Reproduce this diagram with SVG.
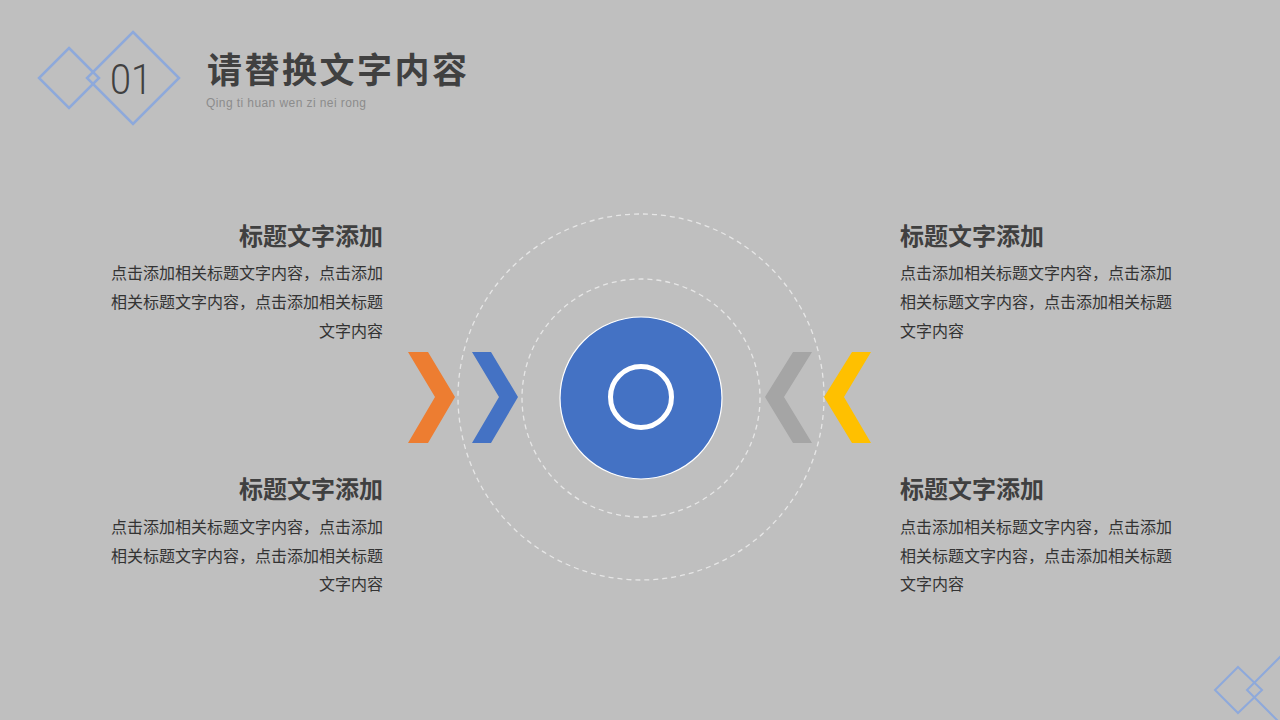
<svg xmlns="http://www.w3.org/2000/svg" width="1280" height="720" viewBox="0 0 1280 720">
<style>
.dia{fill:none;stroke:#8EA9DB;stroke-width:2.5}
.ttl{font-family:"Noto Sans CJK SC","Liberation Sans",sans-serif;font-weight:700;fill:#404040}
.h{font-family:"Noto Sans CJK SC","Liberation Sans",sans-serif;font-weight:700;font-size:24px;fill:#404040}
.b{font-family:"Noto Sans CJK SC","Liberation Sans",sans-serif;font-size:16px;fill:#333333}
.dash{fill:none;stroke:#E6E6E6;stroke-width:1.3;stroke-dasharray:5 4}
</style>
<rect width="1280" height="720" fill="#BFBFBF"/>
<g id="header">
<polygon class="dia" points="69,48 99,78 69,108 39,78"/>
<polygon class="dia" points="133,32 179,78 133,124 87,78"/>
<text x="131" y="94" text-anchor="middle" font-family="Roboto, 'Liberation Sans', sans-serif" font-weight="300" font-size="42" fill="#404040" textLength="42" lengthAdjust="spacingAndGlyphs">01</text>
<text class="ttl" x="207" y="83" font-size="35" textLength="260">请替换文字内容</text>
<text x="206" y="107" font-family="'Liberation Sans', Arial, sans-serif" font-size="12" fill="#8C8C8C" textLength="160">Qing ti huan wen zi nei rong</text>
</g>
<g id="corner">
<polygon class="dia" style="stroke-width:2" points="1238,667 1262,690 1238,713 1215,690"/>
<polygon class="dia" style="stroke-width:2" points="1284,653 1321,690 1284,727 1247,690"/>
</g>
<g id="center">
<circle class="dash" cx="641" cy="397" r="183"/>
<circle class="dash" cx="641" cy="398" r="119"/>
<circle cx="641" cy="398" r="81" fill="#4472C4" stroke="#FFFFFF" stroke-width="1.2"/>
<circle cx="641" cy="397" r="30.5" fill="none" stroke="#FFFFFF" stroke-width="5"/>
</g>
<g id="arrows">
<polygon fill="#ED7D31" points="408,352 428,352 455,397 428,443 408,443 435,397"/>
<polygon fill="#4472C4" points="472,352 491,352 518,397 491,443 472,443 499,397"/>
<polygon fill="#A5A5A5" points="812,352 793,352 765,397 793,443 812,443 784,397"/>
<polygon fill="#FFC000" points="871,352 852,352 824,397 852,443 871,443 844,397"/>
</g>
<g id="block-tl" text-anchor="end">
<text class="h" x="383" y="245">标题文字添加</text>
<text class="b" x="383" y="279">点击添加相关标题文字内容，点击添加</text>
<text class="b" x="383" y="308">相关标题文字内容，点击添加相关标题</text>
<text class="b" x="383" y="337">文字内容</text>
</g>
<g id="block-bl" text-anchor="end">
<text class="h" x="383" y="498">标题文字添加</text>
<text class="b" x="383" y="533">点击添加相关标题文字内容，点击添加</text>
<text class="b" x="383" y="562">相关标题文字内容，点击添加相关标题</text>
<text class="b" x="383" y="590">文字内容</text>
</g>
<g id="block-tr">
<text class="h" x="900" y="245">标题文字添加</text>
<text class="b" x="900" y="279">点击添加相关标题文字内容，点击添加</text>
<text class="b" x="900" y="308">相关标题文字内容，点击添加相关标题</text>
<text class="b" x="900" y="337">文字内容</text>
</g>
<g id="block-br">
<text class="h" x="900" y="498">标题文字添加</text>
<text class="b" x="900" y="533">点击添加相关标题文字内容，点击添加</text>
<text class="b" x="900" y="562">相关标题文字内容，点击添加相关标题</text>
<text class="b" x="900" y="590">文字内容</text>
</g>
</svg>
